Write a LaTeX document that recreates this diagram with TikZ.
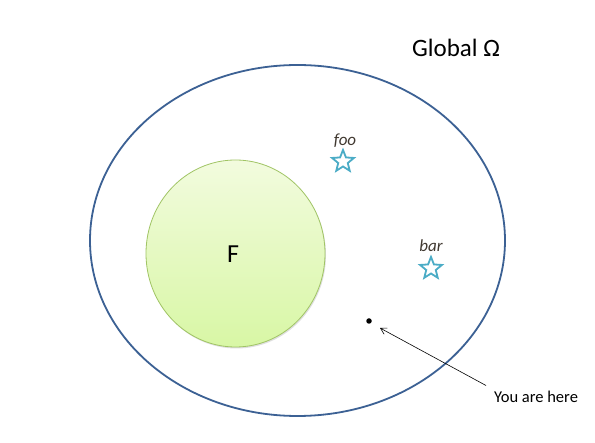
\documentclass[tikz,border=0pt]{standalone}
\usepackage{fontspec}
\setmainfont{Carlito}
\usetikzlibrary{shapes.geometric,arrows.meta,shadows}
\definecolor{ellblue}{RGB}{60,97,148}
\definecolor{starcyan}{RGB}{75,172,198}
\definecolor{greenedge}{RGB}{160,196,100}
\definecolor{greentop}{RGB}{242,251,222}
\definecolor{greenbot}{RGB}{216,247,165}
\definecolor{labgray}{RGB}{64,56,48}
\tikzset{
  starmark/.style={star, star points=5, star point ratio=2.3, draw=starcyan, line width=1.8pt, minimum size=23pt, inner sep=0pt},
  smalllab/.style={font=\fontsize{17}{19}\selectfont\itshape, text=labgray, inner sep=0pt},
}
\begin{document}
\begin{tikzpicture}[x=1pt,y=-1pt]
\useasboundingbox (0,0) rectangle (595,443);
\fill[white] (0,0) rectangle (595,443);
% outer ellipse
\node[ellipse, draw=ellblue, line width=1.8pt, minimum width=415pt, minimum height=351pt, inner sep=0pt] (omega) at (297.5,240.5) {};
\node[font=\fontsize{25}{28}\selectfont, inner sep=0pt] (glob) at (456,48) {Global Ω};
% F circle
\node[ellipse, draw=greenedge, line width=0.8pt, top color=greentop, bottom color=greenbot, minimum width=179pt, minimum height=187pt, inner sep=0pt, drop shadow={shadow xshift=1pt, shadow yshift=-1.5pt, opacity=0.25}] (F) at (235.5,253.5) {};
\node[font=\fontsize{26}{29}\selectfont, inner sep=0pt] (Flab) at (233,254) {F};
% stars
\node[starmark] (foo) at (343,161.5) {};
\node[smalllab] (foolab) at (345,141) {foo};
\node[starmark] (bar) at (431,268.5) {};
\node[smalllab] (barlab) at (431,246) {bar};
% dot and arrow
\node[circle, fill=black, minimum size=5.5pt, inner sep=0pt] (dot) at (369,321) {};
\node[font=\fontsize{16.5}{19}\selectfont, inner sep=0pt] (here) at (536,397) {You are here};
\coordinate (tip) at (380,328);
\coordinate (start) at (486,385.5);
\draw[line width=0.6pt, -{Straight Barb[length=6pt,width=7pt]}] (start) -- (tip);
\end{tikzpicture}
\end{document}
